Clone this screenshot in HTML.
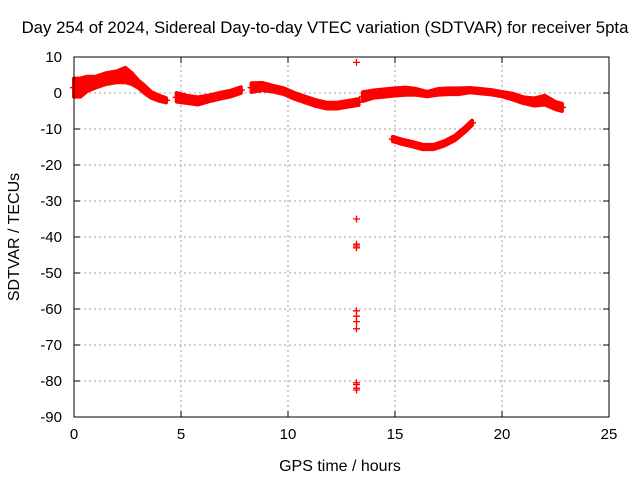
<!DOCTYPE html>
<html><head><meta charset="utf-8"><style>
body{margin:0;background:#fff;}
svg text{font-family:"Liberation Sans",sans-serif;font-size:15px;fill:#000;}
</style></head><body>
<svg id="chart" width="640" height="480">
<text x="325" y="33" text-anchor="middle" style="font-size:16.8px">Day 254 of 2024, Sidereal Day-to-day VTEC variation (SDTVAR) for receiver 5pta</text>
<text x="340" y="471" text-anchor="middle" style="font-size:16px">GPS time / hours</text>
<text transform="translate(19,237) rotate(-90)" text-anchor="middle" style="font-size:16px">SDTVAR / TECUs</text>
<g id="grid"></g><g id="marks"></g>
<rect x="74" y="57" width="535" height="360" fill="none" stroke="#000" stroke-width="1"/>
</svg>
<script>
const xTicks=[0,5,10,15,20,25];
const yTicks=[10,0,-10,-20,-30,-40,-50,-60,-70,-80,-90];
const seg1T=[0,0.3,0.6,1,1.5,2,2.4,2.7,3,3.3,3.6,4,4.3];
const seg1V=[1.5,1.5,2.5,3,4,4.5,5,4,2.5,1,-0.5,-1.5,-2];
const seg1S=[2.5,2.5,2,1.5,1.5,1.5,2,1.5,1,1,0.8,0.7,0.6];
const seg2T=[4.8,5.3,5.8,6.3,6.8,7.3,7.8];
const seg2V=[-1.2,-1.8,-2.2,-1.5,-0.8,-0.2,0.8];
const seg2S=[1.2,1,1,0.8,0.8,0.8,0.8];
const seg3T=[8.3,8.8,9.3,9.8,10.3,10.8,11.3,11.8,12.3,12.8,13.3];
const seg3V=[1.5,1.8,1.2,0.5,-0.8,-1.8,-2.8,-3.5,-3.5,-3,-2.5];
const seg3S=[1.2,1,0.8,0.8,0.8,0.8,0.8,0.8,0.8,0.8,0.8];
const seg4T=[13.5,14,14.5,15,15.5,16,16.5,17,17.5,18,18.5,19,19.5,20,20.5,21,21.5,22,22.5,22.8];
const seg4V=[-1,-0.3,0,0.3,0.5,0.3,-0.3,0.3,0.5,0.5,0.8,0.5,0.2,-0.3,-1,-2,-2.5,-2,-3.5,-4];
const seg4S=[1.2,1,1,1,1,0.8,0.6,0.8,0.8,0.8,0.6,0.6,0.6,0.6,0.8,0.8,1,1.2,1,1];
const seg5T=[14.9,15.3,15.8,16.3,16.8,17.3,17.8,18.3,18.6];
const seg5V=[-12.8,-13.5,-14.2,-15,-15,-14,-12.5,-10,-8.3];
const seg5S=[0.6,0.6,0.6,0.6,0.6,0.6,0.6,0.6,0.6];
const outT=[13.2,13.2,13.2,13.2,13.2,13.2,13.2,13.2,13.2,13.2,13.2,13.2,13.2];
const outV=[8.5,-35,-42,-42.5,-43,-60.5,-62,-63.5,-65.5,-80.5,-81,-82,-82.5];
const X0=74,X1=609,Y0=417,Y1=57;
const xs=v=>X0+(v-0)/25*(X1-X0);
const ys=v=>Y0-(v+90)/100*(Y0-Y1);
const NS="http://www.w3.org/2000/svg";
const grid=document.getElementById('grid'),marks=document.getElementById('marks');
function mk(tag,attrs,parent){const e=document.createElementNS(NS,tag);for(const k in attrs)e.setAttribute(k,attrs[k]);parent.appendChild(e);return e;}
xTicks.forEach(t=>{const x=xs(t);
 if(t>0&&t<25){const g=mk('line',{x1:x,x2:x,y1:Y0,y2:Y1,stroke:'#a0a0a0','stroke-dasharray':'2,3'},grid);
 
 }
 const l=mk('text',{x:x,y:Y0+22,'text-anchor':'middle'},grid);l.textContent=t;
 
 
 mk('line',{x1:x,x2:x,y1:Y0,y2:Y0-6,stroke:'#000'},grid);mk('line',{x1:x,x2:x,y1:Y1,y2:Y1+6,stroke:'#000'},grid);});
yTicks.forEach(t=>{const y=ys(t);
 if(t>-90&&t<10){const g=mk('line',{x1:X0,x2:X1,y1:y,y2:y,stroke:'#a0a0a0','stroke-dasharray':'2,3'},grid);
 
 }
 const l=mk('text',{x:X0-12,y:y+5,'text-anchor':'end'},grid);l.textContent=t;
 
 
 mk('line',{x1:X0,x2:X0+6,y1:y,y2:y,stroke:'#000'},grid);mk('line',{x1:X1,x2:X1-6,y1:y,y2:y,stroke:'#000'},grid);});
function band(T,V,S,name){
 let up=T.map((t,i)=>xs(t)+','+ys(V[i]+S[i]));
 let lo=T.map((t,i)=>xs(t)+','+ys(V[i]-S[i])).reverse();
 const p=mk('polygon',{points:up.concat(lo).join(' '),fill:'#f00',stroke:'#f00','stroke-width':4,'stroke-linejoin':'round'},marks);
 
 
 T.forEach((t,i)=>{const x=xs(t),y=ys(V[i]);
  const c=mk('path',{d:`M${x-4},${y}H${x+4}M${x},${y-4}V${y+4}`,stroke:'#f00','stroke-width':1.5},marks);
  
  });
}
band(seg1T,seg1V,seg1S,'series-segment-1');
band(seg2T,seg2V,seg2S,'series-segment-2');
band(seg3T,seg3V,seg3S,'series-segment-3');
band(seg4T,seg4V,seg4S,'series-segment-4');
band(seg5T,seg5V,seg5S,'series-segment-5');
outT.forEach((t,i)=>{const x=xs(t),y=ys(outV[i]);
 const c=mk('path',{d:`M${x-3.5},${y}H${x+3.5}M${x},${y-3.5}V${y+3.5}`,stroke:'#f00','stroke-width':1.3},marks);
 
 });
</script>
</body></html>
